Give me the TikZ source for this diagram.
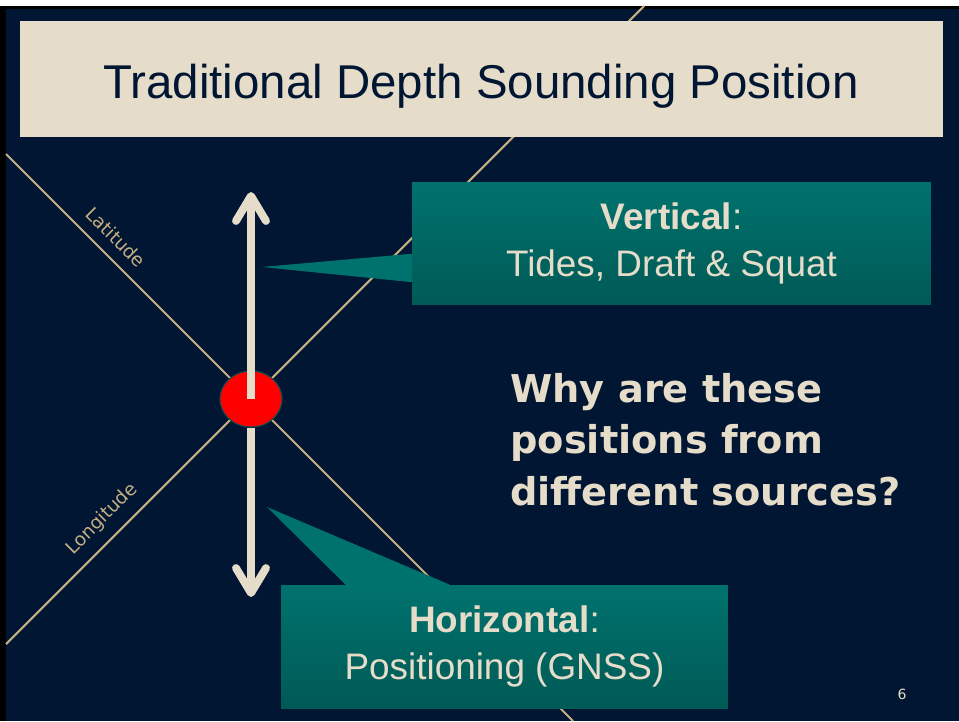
\documentclass[tikz,border=0pt]{standalone}
\usepackage{fontspec}
\setmainfont{Liberation Sans}
\newfontfamily\labelfont{DejaVu Sans}
\usepackage{tikz}
\usetikzlibrary{calc}
\usetikzlibrary{shapes.geometric}
\usetikzlibrary{positioning}
\usetikzlibrary{arrows.meta}
\usepackage{xcolor}

\definecolor{slidenavy}{HTML}{011632}
\definecolor{paper}{HTML}{E6DCCA}
\definecolor{chartline}{HTML}{C4AE84}
\definecolor{tealtop}{HTML}{00726D}
\definecolor{tealbottom}{HTML}{005A56}
\definecolor{dotrim}{HTML}{0B4F50}

\begin{document}
\begin{tikzpicture}[x=0.02cm, y=-0.02cm,
    gridline/.style={chartline, line width=1.2pt},
    gridlabel/.style={chartline, font=\labelfont\fontsize{10.5}{12}\selectfont, inner sep=0pt},
    callout/.style={rectangle, top color=tealtop, bottom color=tealbottom, draw=none,
                    minimum height=2.46cm, align=center, text=paper,
                    font=\fontsize{21}{26.8}\selectfont},
    pointer/.style={fill=tealtop, draw=none},
    vecarrow/.style={paper, line width=4.5pt, -{Straight Barb[length=0.5cm, width=0.6cm, round]}}]

    % 1. Slide background with its thin frame
    \useasboundingbox (0,0) rectangle (959,721);
    \fill[white] (0,0) rectangle (959,721);
    \fill[black] (0,6) rectangle (959,721);
    \fill[slidenavy] (6,9) rectangle (959,721);

    % 2. Latitude and longitude lines crossing at the sounding
    \coordinate (sounding) at (251,399);
    \coordinate (latstart) at (6,154);
    \coordinate (latend) at (573,721);
    \coordinate (lonstart) at (6,644);
    \coordinate (lonend) at (644,6);
    \draw[gridline] (latstart) -- (latend);
    \draw[gridline] (lonstart) -- (lonend);
    \node[gridlabel, rotate=-45] (latlabel) at (116,237) {Latitude};
    \node[gridlabel, rotate=45] (lonlabel) at (102,519) {Longitude};

    % 3. Title bar
    \node[rectangle, fill=paper, minimum width=18.46cm, minimum height=2.32cm, inner sep=0pt]
        (titlebar) at (481.5,79) {};
    \node[anchor=base, text=slidenavy, font=\fontsize{27}{32}\selectfont, inner sep=0pt]
        (title) at (481,98) {Traditional Depth Sounding Position};

    % 4. Sounding position and its vertical / horizontal components
    \node[ellipse, fill=red, draw=dotrim, line width=0.6pt, minimum width=1.24cm,
          minimum height=1.12cm, inner sep=0pt] (dot) at (sounding) {};
    \coordinate (uptip) at (251,192);
    \coordinate (downtip) at (251,597);
    \draw[vecarrow] (dot.center) -- (uptip);
    \draw[vecarrow] (dot.south) -- (downtip);

    % 5. Callouts
    \fill[pointer] (262,267) -- (420,253) -- (420,283) -- cycle;
    \node[callout, minimum width=10.38cm] (vertbox) at (671.5,243.5)
        {\textbf{Vertical}:\\Tides, Draft \& Squat};
    \fill[pointer] (267,507) -- (353,592) -- (467,592) -- cycle;
    \node[callout, minimum width=8.94cm] (horbox) at (504.5,646.5)
        {\textbf{Horizontal}:\\Positioning (GNSS)};

    % 6. Question and slide number
    \node[anchor=north west, align=left, inner sep=0pt, text=paper,
          font=\labelfont\bfseries\fontsize{21.8}{29.3}\selectfont]
        (question) at (510,373) {Why are these\\positions from\\different sources?};
    \node[text=paper, font=\labelfont\fontsize{8}{10}\selectfont] (pagenum) at (902,694) {6};
\end{tikzpicture}
\end{document}
